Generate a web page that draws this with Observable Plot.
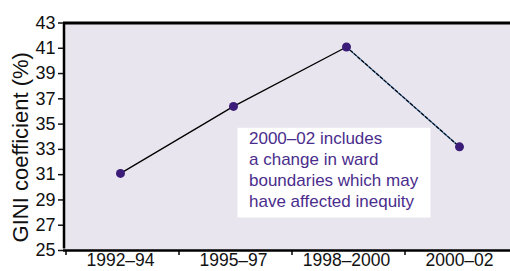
<!DOCTYPE html>
<html>
<head>
<meta charset="utf-8">
<script src="https://cdn.jsdelivr.net/npm/d3@7"></script>
<script src="https://cdn.jsdelivr.net/npm/@observablehq/plot@0.6"></script>
<style>
  html, body { margin: 0; padding: 0; background: #fff; }
  #chart svg { display: block; }
</style>
</head>
<body>
<div id="chart"></div>
<script>
const periods = ["1992–94", "1995–97", "1998–2000", "2000–02"];
const gini = [31.1, 36.4, 41.1, 33.2];
const yTicks = [25, 27, 29, 31, 33, 35, 37, 39, 41, 43];
const yLabel = "GINI coefficient (%)";
const noteLines = ["2000–02 includes", "a change in ward", "boundaries which may", "have affected inequity"];

const data = periods.map((p, i) => ({period: p, value: gini[i]}));
const solid = data.slice(0, 3);
const dashed = data.slice(2, 4);

const W = 510, H = 271, ML = 63, MT = 22.5, MB = 21;
const xRange = [ML, 515];
const step = (xRange[1] - xRange[0]) / periods.length;
const font = "'Liberation Sans', Arial, Helvetica, sans-serif";

const chart = Plot.plot({
  width: W,
  height: H,
  marginLeft: ML,
  marginRight: 0,
  marginTop: MT,
  marginBottom: MB,
  style: {fontFamily: font, fontSize: "18px", color: "#111", background: "transparent", overflow: "visible"},
  x: {type: "point", domain: periods, range: xRange, padding: 0.5, label: null},
  y: {domain: [25, 43], label: null},
  marks: [
    Plot.frame({fill: "#e8e5ee", stroke: null}),
    // annotation box
    Plot.rect([noteLines], {
      x1: () => periods[2], x2: () => periods[2],
      y1: () => 27.57, y2: () => 34.67,
      insetLeft: -108.5, insetRight: -84.5,
      fill: "white"
    }),
    Plot.text([noteLines.join("\n")], {
      x: () => periods[2], y: () => 31.45,
      text: d => d, dx: -97.5,
      textAnchor: "start", lineAnchor: "middle", lineHeight: 1.235,
      fontSize: 17, fill: "#4a2d8c"
    }),
    // lines
    Plot.line(solid, {x: "period", y: "value", stroke: "#000", strokeWidth: 1.3}),
    Plot.line(dashed, {x: "period", y: "value", stroke: "#6a9fd8", strokeWidth: 1.6}),
    Plot.line(dashed, {x: "period", y: "value", stroke: "#000", strokeWidth: 1.2, strokeDasharray: "3,2"}),
    Plot.dot(data, {x: "period", y: "value", r: 4.5, fill: "#3b1c78", stroke: "none"}),
    // axes lines
    Plot.ruleY([43], {stroke: "#000", strokeWidth: 3}),
    Plot.ruleY([25], {stroke: "#000", strokeWidth: 2.5}),
    Plot.ruleX([periods[0]], {y1: 25, y2: 43, dx: -step / 2, stroke: "#000", strokeWidth: 2.5, insetBottom: -1.5, insetTop: -1.5}),
    // category boundary ticks
    Plot.ruleX(periods, {y1: 25, y2: 25, insetBottom: -5, dx: -step / 2 + 2, stroke: "#000", strokeWidth: 1.5}),
    Plot.axisX({tickSize: 0, tickPadding: 3, fontSize: 17.5}),
    Plot.axisY({ticks: yTicks, tickSize: 5, tickPadding: 3, fontSize: 18, strokeWidth: 1.5, label: null}),
    Plot.text([yLabel], {frameAnchor: "left", text: d => d, textAnchor: "middle", rotate: -90, dx: -43, dy: 10.5, fontSize: 22, fill: "#111"})
  ]
});
document.getElementById("chart").appendChild(chart);
</script>
</body>
</html>
